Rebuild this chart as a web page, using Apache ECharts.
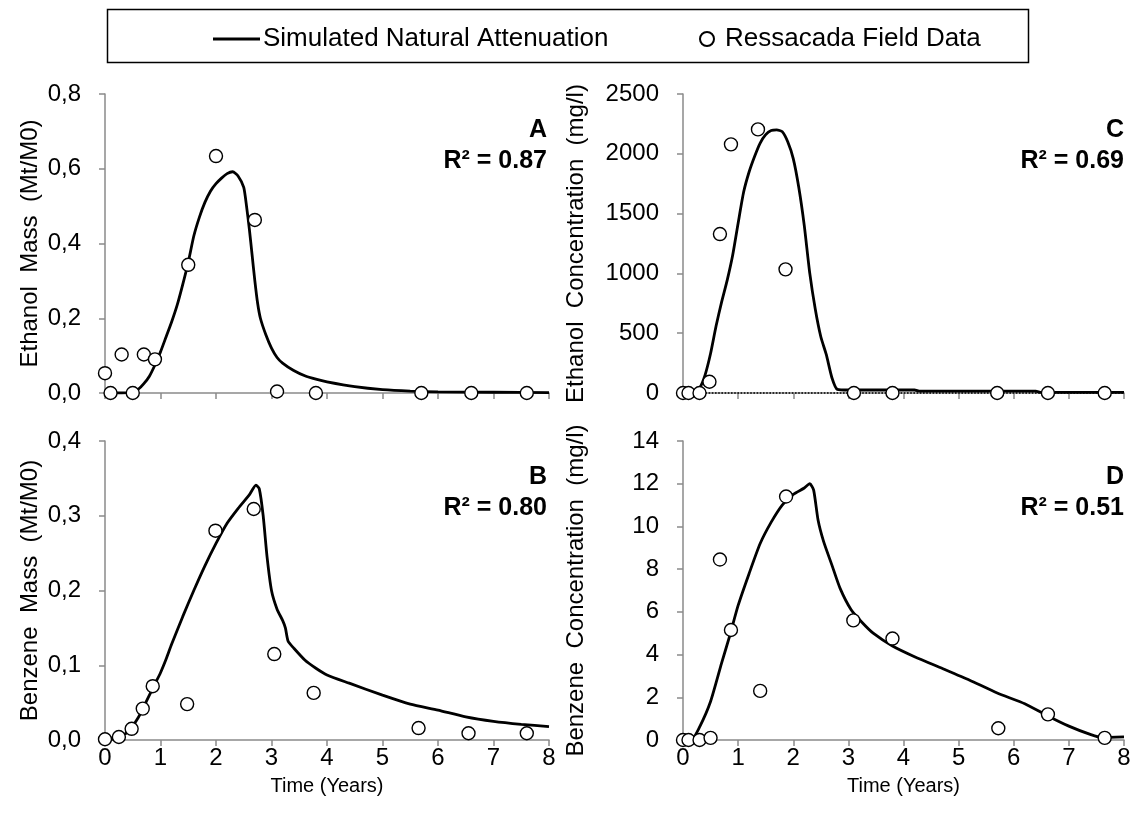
<!DOCTYPE html>
<html>
<head>
<meta charset="utf-8">
<script src="https://cdn.jsdelivr.net/npm/echarts@6/dist/echarts.min.js"></script>
<style>
  html, body { margin: 0; padding: 0; background: #fff; }
  #main { width: 1134px; height: 826px; }
</style>
</head>
<body>
<div id="main"></div>
<script>
// 时间轴刻度 (years)
const yearTicks = [0, 1, 2, 3, 4, 5, 6, 7, 8];

// A - ethanol mass (Mt/M0)
const simEthanolMass = [[0,0],[0.3,0],[0.5,0.002],[0.6,0.01],[0.7,0.025],[0.8,0.045],[0.9,0.075],[1.0,0.11],[1.1,0.15],[1.2,0.19],[1.3,0.235],[1.4,0.29],[1.5,0.35],[1.6,0.42],[1.7,0.47],[1.8,0.51],[1.9,0.54],[2.0,0.56],[2.1,0.575],[2.2,0.587],[2.3,0.592],[2.4,0.58],[2.5,0.55],[2.55,0.5],[2.6,0.44],[2.65,0.37],[2.7,0.3],[2.75,0.24],[2.8,0.2],[2.9,0.155],[3.0,0.12],[3.1,0.095],[3.2,0.08],[3.4,0.06],[3.6,0.046],[3.8,0.037],[4.0,0.03],[4.5,0.017],[5.0,0.009],[5.5,0.005],[6.0,0.003],[7.0,0.002],[8.0,0.001]];
const fieldEthanolMass = [[0,0.053],[0.1,0],[0.3,0.103],[0.5,0],[0.7,0.103],[0.9,0.09],[1.5,0.343],[2.0,0.634],[2.7,0.463],[3.1,0.004],[3.8,0],[5.7,0],[6.6,0],[7.6,0]];

// B - benzene mass (Mt/M0)
const simBenzeneMass = [[0,0],[0.2,0.002],[0.4,0.01],[0.6,0.03],[0.8,0.06],[0.9,0.075],[1.0,0.09],[1.1,0.108],[1.2,0.128],[1.4,0.165],[1.6,0.2],[1.8,0.233],[2.0,0.263],[2.2,0.29],[2.4,0.31],[2.6,0.328],[2.72,0.341],[2.78,0.336],[2.85,0.3],[2.92,0.245],[3.0,0.2],[3.1,0.175],[3.2,0.16],[3.25,0.15],[3.3,0.132],[3.4,0.123],[3.6,0.107],[3.8,0.096],[4.0,0.087],[4.4,0.076],[5.0,0.06],[5.5,0.048],[6.0,0.04],[6.5,0.031],[7.0,0.025],[7.5,0.021],[8.0,0.018]];
const fieldBenzeneMass = [[0,0.001],[0.25,0.004],[0.48,0.015],[0.68,0.042],[0.86,0.072],[1.48,0.048],[1.99,0.28],[2.68,0.309],[3.05,0.115],[3.76,0.063],[5.65,0.016],[6.55,0.009],[7.6,0.009]];

// C - ethanol concentration (mg/l)
const simEthanolConc = [[0,0],[0.2,0],[0.3,40],[0.4,150],[0.5,330],[0.6,560],[0.7,760],[0.8,940],[0.9,1150],[1.0,1420],[1.1,1680],[1.2,1850],[1.3,1980],[1.4,2090],[1.5,2160],[1.6,2195],[1.7,2200],[1.8,2185],[1.9,2100],[2.0,1960],[2.1,1720],[2.2,1400],[2.3,1000],[2.4,700],[2.5,470],[2.6,320],[2.7,130],[2.8,30],[3.0,25],[4.2,25],[4.3,15],[6.4,15],[6.5,5],[8.0,5]];
const fieldEthanolConc = [[0,0],[0.1,0],[0.3,0],[0.48,94],[0.67,1329],[0.87,2079],[1.36,2204],[1.86,1034],[3.1,0],[3.8,0],[5.7,0],[6.62,0],[7.65,0]];

// D - benzene concentration (mg/l)
const simBenzeneConc = [[0,0],[0.15,0],[0.3,0.6],[0.5,1.8],[0.7,3.6],[0.85,4.9],[1.0,6.3],[1.2,7.8],[1.4,9.2],[1.6,10.2],[1.8,11.0],[2.0,11.5],[2.2,11.8],[2.3,12.0],[2.37,11.7],[2.45,10.3],[2.55,9.3],[2.7,8.2],[2.85,7.1],[3.05,6.1],[3.25,5.5],[3.45,5.0],[3.8,4.4],[4.2,3.9],[4.75,3.3],[5.2,2.8],[5.7,2.2],[6.2,1.7],[6.6,1.15],[7.0,0.65],[7.4,0.25],[7.6,0.12],[8.0,0.15]];
const fieldBenzeneConc = [[0,0],[0.1,0],[0.3,0],[0.5,0.1],[0.67,8.45],[0.87,5.15],[1.4,2.3],[1.87,11.4],[3.09,5.6],[3.8,4.75],[5.72,0.55],[6.62,1.2],[7.65,0.1]];

const FONT = 'Liberation Sans, Arial, sans-serif';
const AXIS_GREY = '#8a8a8a';

const myChart = echarts.init(document.getElementById('main'));

function xAxisFor(gridIndex, showLabel) {
    return {
        type: 'value', gridIndex: gridIndex, min: yearTicks[0], max: yearTicks[yearTicks.length - 1], interval: 1,
        name: showLabel ? 'Time (Years)' : '', nameLocation: 'middle', nameGap: 36,
        nameTextStyle: { fontFamily: FONT, fontSize: 20, color: '#000' },
        axisLine: { show: true, lineStyle: { color: AXIS_GREY, width: 1.5 } },
        axisTick: { show: true, inside: false, length: 6, lineStyle: { color: AXIS_GREY, width: 1.5 } },
        axisLabel: { show: showLabel, fontFamily: FONT, fontSize: 24, color: '#000', margin: 6 },
        splitLine: { show: false }
    };
}

function yAxisFor(gridIndex, max, interval, title, gap, fmt) {
    return {
        type: 'value', gridIndex: gridIndex, min: 0, max: max, interval: interval,
        name: title, nameLocation: 'middle', nameGap: gap, nameRotate: 90,
        nameTextStyle: { fontFamily: FONT, fontSize: 24, color: '#000' },
        axisLine: { show: true, lineStyle: { color: AXIS_GREY, width: 1.5 } },
        axisTick: { show: true, inside: false, length: 6, lineStyle: { color: AXIS_GREY, width: 1.5 } },
        axisLabel: { fontFamily: FONT, fontSize: 24, color: '#000', margin: 24, formatter: fmt },
        splitLine: { show: false }
    };
}

const commaFmt = v => v.toFixed(1).replace('.', ',');
const plainFmt = v => String(v);

function simSeries(idx, data) {
    return {
        name: 'Simulated Natural Attenuation', type: 'line', xAxisIndex: idx, yAxisIndex: idx,
        data: data, showSymbol: false, smooth: 0.2, z: 2,
        lineStyle: { color: '#000', width: 2.8 }, itemStyle: { color: '#000' }
    };
}

function fieldSeries(idx, data) {
    return {
        name: 'Ressacada Field Data', type: 'scatter', xAxisIndex: idx, yAxisIndex: idx,
        data: data, symbol: 'circle', symbolSize: 13, z: 5,
        itemStyle: { color: '#fff', borderColor: '#000', borderWidth: 1.4, opacity: 1 }
    };
}

function panelText(x, y, letter, r2) {
    return [
        { type: 'text', x: x, y: y, style: { text: letter, font: 'bold 25px ' + FONT, fill: '#000', align: 'right', verticalAlign: 'middle' } },
        { type: 'text', x: x, y: y + 31, style: { text: 'R² = ' + r2, font: 'bold 25px ' + FONT, fill: '#000', align: 'right', verticalAlign: 'middle' } }
    ];
}

// 零线 (panel C dotted baseline)
const concC = simSeries(2, simEthanolConc);
concC.markLine = {
    silent: true, symbol: 'none', label: { show: false },
    lineStyle: { type: 'dotted', color: '#000', width: 1.6 },
    data: [{ yAxis: 0 }]
};

myChart.setOption({
    animation: false,
    backgroundColor: '#fff',
    textStyle: { fontFamily: FONT },
    grid: [
        { left: 105, top: 94, width: 444, height: 299 },
        { left: 105, top: 441, width: 444, height: 299 },
        { left: 683, top: 94, width: 441, height: 299 },
        { left: 683, top: 441, width: 441, height: 299 }
    ],
    xAxis: [xAxisFor(0, false), xAxisFor(1, true), xAxisFor(2, false), xAxisFor(3, true)],
    yAxis: [
        yAxisFor(0, 0.8, 0.2, 'Ethanol  Mass  (Mt/M0)', 63, commaFmt),
        yAxisFor(1, 0.4, 0.1, 'Benzene  Mass  (Mt/M0)', 63, commaFmt),
        yAxisFor(2, 2500, 500, 'Ethanol  Concentration  (mg/l)', 95, plainFmt),
        yAxisFor(3, 14, 2, 'Benzene  Concentration  (mg/l)', 95, plainFmt)
    ],
    legend: [
        {
            data: [{ name: 'Simulated Natural Attenuation', icon: 'rect' }],
            left: 208, top: 21, itemWidth: 47, itemHeight: 3, selectedMode: false,
            textStyle: { fontFamily: FONT, fontSize: 26, color: '#000', padding: [0, 0, 0, -2] }
        },
        {
            data: [{ name: 'Ressacada Field Data', icon: 'circle' }],
            left: 694, top: 21, itemWidth: 14, itemHeight: 14, selectedMode: false,
            textStyle: { fontFamily: FONT, fontSize: 26, color: '#000', padding: [0, 0, 0, 6] }
        }
    ],
    graphic: [
        { type: 'rect', shape: { x: 107.5, y: 9.5, width: 921, height: 53 }, style: { fill: 'none', stroke: '#000', lineWidth: 1.5 } }
    ].concat(
        panelText(547, 130, 'A', '0.87'),
        panelText(547, 477, 'B', '0.80'),
        panelText(1124, 130, 'C', '0.69'),
        panelText(1124, 477, 'D', '0.51')
    ),
    series: [
        simSeries(0, simEthanolMass), fieldSeries(0, fieldEthanolMass),
        simSeries(1, simBenzeneMass), fieldSeries(1, fieldBenzeneMass),
        concC, fieldSeries(2, fieldEthanolConc),
        simSeries(3, simBenzeneConc), fieldSeries(3, fieldBenzeneConc)
    ]
});
</script>
</body>
</html>
